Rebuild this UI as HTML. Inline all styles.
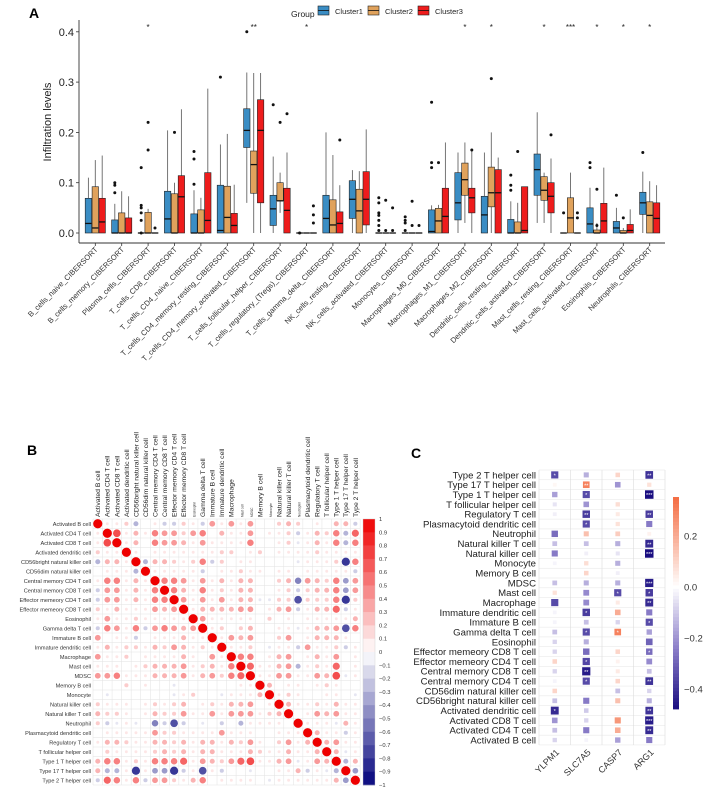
<!DOCTYPE html>
<html><head><meta charset="utf-8"><style>
html,body{margin:0;padding:0;background:#fff;}
svg{display:block;font-family:"Liberation Sans",Arial,sans-serif;}
</style></head><body>
<svg id="fig" width="712" height="796" viewBox="0 0 712 796" xmlns="http://www.w3.org/2000/svg">
<g id="pa"></g>
<g id="pb"></g>
<g id="pc"></g>
</svg>
<script>
// ===== Panel A data =====
const catsA = ["B_cells_naive_CIBERSORT","B_cells_memory_CIBERSORT","Plasma_cells_CIBERSORT","T_cells_CD8_CIBERSORT","T_cells_CD4_naive_CIBERSORT","T_cells_CD4_memory_resting_CIBERSORT","T_cells_CD4_memory_activated_CIBERSORT","T_cells_follicular_helper_CIBERSORT","T_cells_regulatory_(Tregs)_CIBERSORT","T_cells_gamma_delta_CIBERSORT","NK_cells_resting_CIBERSORT","NK_cells_activated_CIBERSORT","Monocytes_CIBERSORT","Macrophages_M0_CIBERSORT","Macrophages_M1_CIBERSORT","Macrophages_M2_CIBERSORT","Dendritic_cells_resting_CIBERSORT","Dendritic_cells_activated_CIBERSORT","Mast_cells_resting_CIBERSORT","Mast_cells_activated_CIBERSORT","Eosinophils_CIBERSORT","Neutrophils_CIBERSORT"];
const groupsA = ["Cluster1","Cluster2","Cluster3"];
// each box: [low, q1, median, q3, high]
const cluster1Boxes = [[0,0,.019,.069,.11],[0,0,0,.026,.058],[0,0,0,0,0],[0,0,.028,.083,.204],[0,0,0,.038,.085],[0,0,.005,.095,.176],[.06,.17,.204,.247,.319],[0,.015,.048,.075,.152],[0,0,0,0,0],[0,0,.029,.075,.2],[0,.029,.067,.104,.125],[0,0,0,0,0],[0,0,0,0,0],[0,0,.003,.046,.055],[0,.026,.06,.12,.16],[0,0,.036,.073,.16],[0,0,0,.027,.063],[.02,.075,.126,.157,.24],[0,0,0,0,0],[0,0,.018,.05,.09],[0,0,.01,.023,.05],[0,.037,.06,.081,.122]];
const cluster2Boxes = [[0,0,.01,.092,.145],[0,0,0,.04,.083],[0,0,0,.041,.048],[0,0,0,.078,.1],[0,0,0,.046,.07],[0,0,.031,.093,.197],[0,.079,.136,.163,.318],[.04,.064,.064,.1,.12],[0,0,0,0,0],[0,0,.016,.066,.155],[0,0,.044,.087,.123],[0,0,0,0,0],[0,0,0,0,0],[0,0,.024,.049,.056],[.02,.075,.106,.139,.18],[0,.052,.08,.131,.2],[0,0,0,.022,.06],[.02,.065,.085,.112,.12],[0,0,.03,.07,.12],[0,0,0,.006,.02],[0,0,0,.005,.01],[0,0,.035,.062,.103]];
const cluster3Boxes = [[0,0,.022,.069,.154],[0,0,0,.03,.073],[0,0,0,0,0],[0,0,.072,.114,.246],[0,0,.025,.12,.287],[0,0,.015,.039,.096],[0,.06,.204,.265,.318],[0,0,.045,.089,.16],[0,0,0,0,0],[0,0,.019,.042,.095],[0,.016,.067,.122,.206],[0,0,0,0,0],[0,0,0,0,0],[0,0,.033,.089,.18],[0,.04,.07,.089,.165],[0,0,.08,.126,.15],[0,0,.005,.092,.09],[0,.04,.073,.1,.148],[0,0,0,0,0],[0,0,.024,.059,.13],[0,0,.005,.017,.047],[0,0,.029,.06,.095]];
const cluster1Out = [[],[.08,.095,.1],[.13,.055,.05,.04,.025,0],[],[.097,.147,.162],[.31],[.4],[.255],[0],[],[],[.07,.06,.04,.035,.025,.015,.005],[.032,.025,.02,.005],[.26,.14,.13],[],[],[.115,.095,.085],[],[.04],[.14,.13],[.075],[.16]];
const cluster2Out = [[],[],[.22,.165],[.2],[],[],[],[.22],[],[],[],[.065,.005],[.063,.015],[.14],[],[.307],[.162],[],[],[.015,.087],[.03],[]];
const cluster3Out = [[],[],[.01],[],[],[],[],[.237],[.054,.036,.02],[.185],[],[.05,.005],[.015],[],[.165],[],[],[.195],[.04,.03],[],[],[]];
const sigA = ["","","*","","","","**","","*","","","","","","*","*","","*","***","*","*","*"];
const yTicksA = [0,0.1,0.2,0.3,0.4];

// ===== Panel B data =====
const cellsB = ["Activated B cell","Activated CD4 T cell","Activated CD8 T cell","Activated dendritic cell","CD56bright natural killer cell","CD56dim natural killer cell","Central memory CD4 T cell","Central memory CD8 T cell","Effector memeory CD4 T cell","Effector memeory CD8 T cell","Eosinophil","Gamma delta T cell","Immature  B cell","Immature dendritic cell","Macrophage","Mast cell","MDSC","Memory B cell","Monocyte","Natural killer cell","Natural killer T cell","Neutrophil","Plasmacytoid dendritic cell","Regulatory T cell","T follicular helper cell","Type 1 T helper cell","Type 17 T helper cell","Type 2 T helper cell"];
const corrB = [
[1,.1,.1,.2,-.3,0,.1,-.2,-.2,.2,.1,-.2,.4,.1,.4,.1,.4,0,0,.2,.3,.2,0,.1,0,.3,.3,-.2],
[.1,1,.7,.1,.3,.1,.5,.4,.4,.2,.4,.5,0,.3,.1,.1,.4,0,.1,.1,.2,-.2,.1,.3,.2,.5,-.3,.6],
[.1,.7,1,.1,.3,0,.5,.4,.4,.3,.1,.4,.1,.1,.1,.1,.5,0,0,.1,.2,-.1,.1,.3,.1,.5,-.3,.5],
[.2,.1,.1,1,.1,0,.1,.1,.1,.1,.1,.1,.1,.2,.2,0,.1,.2,0,.1,.1,.1,.1,.2,.1,.1,.1,.1],
[-.3,.3,.3,.1,1,-.3,.3,.3,.2,.1,.2,.5,-.2,.2,0,.1,.1,0,0,0,0,-.1,.1,.1,.1,.2,-.8,.5],
[0,.1,.1,.1,-.3,1,.1,.1,.1,.1,.1,-.2,0,.1,.1,.2,.1,.1,0,.1,.1,0,.1,.1,.1,.1,.1,-.2],
[.1,.5,.5,.1,.3,.1,1,.5,.5,.4,.1,.4,.1,.3,.1,.3,.3,0,0,.2,.3,-.5,.4,.3,.2,.5,-.4,.4],
[-.2,.4,.4,.1,.3,.1,.5,1,.5,.3,.1,.5,.1,.2,.1,.3,.3,0,0,.1,.2,-.2,.2,.3,.3,.5,-.4,.4],
[-.2,.4,.4,.1,.3,.1,.5,.5,1,.4,.1,.4,.1,.4,.1,.3,.3,-.1,-.1,.2,.2,-.7,.2,.2,.2,.5,-.8,.2],
[.2,.1,.3,.1,.1,.1,.4,.3,.4,1,.1,.3,.3,.3,.3,.4,.4,0,.1,.3,.4,-.2,.1,.3,.3,.6,-.2,.1],
[.1,.4,.1,.1,.2,.1,.1,.1,.1,.1,1,.4,.1,.1,.1,.1,.1,0,.2,0,.1,0,.1,.1,.1,.1,.1,.3],
[-.2,.5,.4,.1,.5,-.2,.4,.5,.4,.3,.4,1,.1,.2,0,.2,.3,0,0,.1,.1,-.1,.1,.3,.3,.4,-.7,.5],
[.4,0,.1,.1,-.2,0,.1,.1,.1,.3,.1,.1,1,.1,.4,.3,.4,0,0,.2,.4,0,.1,.3,.3,.3,.1,0],
[.1,.3,.1,.2,.2,.1,.3,.2,.4,.3,.1,.2,.1,1,.1,.1,.2,0,-.1,.1,.1,-.2,.4,.1,.1,.2,-.2,.1],
[.4,.1,.1,.2,0,.1,.1,.1,.1,.3,.1,0,.4,.1,1,.5,.5,0,.1,.3,.4,0,.1,.3,.1,.4,0,.1],
[.1,.1,.1,0,.1,.2,.3,.3,.3,.4,.1,.2,.3,.1,.5,1,.6,.1,.1,.3,.4,-.3,.1,.2,.1,.6,0,.1],
[.4,.4,.5,.1,.1,.1,.3,.3,.3,.4,.1,.3,.4,.2,.5,.6,1,.1,.1,.4,.4,.1,.1,.4,.3,.7,-.1,.1],
[0,0,0,.2,0,.1,0,0,-.1,0,0,0,0,0,0,.1,.1,1,.3,0,.1,.1,0,.1,.2,.1,0,0],
[0,-.1,0,0,0,0,0,0,-.1,.1,.2,0,0,-.1,.1,.1,.1,.3,1,.1,.2,.1,0,0,.1,.1,0,-.1],
[.2,.1,.1,.1,0,.1,.2,.1,.2,.3,0,.1,.2,.1,.3,.3,.4,0,.1,1,.3,.1,.1,.2,.1,.3,.1,.1],
[.3,.2,.2,.1,0,.1,.3,.2,.2,.4,.1,.1,.4,.1,.4,.4,.4,.1,.2,.3,1,0,.1,.4,.3,.4,.1,.1],
[.2,-.2,-.1,.1,-.1,0,-.5,-.2,-.7,-.2,0,-.1,0,-.2,0,-.3,.1,.1,.1,.1,0,1,.1,.1,.1,-.1,.3,.1],
[0,.1,.1,.1,.1,.1,.4,.2,.2,.1,.1,.1,.1,.4,.1,.1,.1,0,0,.1,.1,.1,1,.3,.1,.1,-.2,.1],
[.1,.3,.3,.2,.1,.1,.3,.3,.2,.3,.1,.3,.3,.1,.3,.2,.4,.1,0,.2,.4,.1,.3,1,.3,.4,.1,.1],
[0,.2,.1,.1,.1,.1,.2,.3,.2,.3,.1,.3,.3,.1,.1,.1,.3,.2,.1,.1,.3,.1,.1,.3,1,.3,-.1,.1],
[.3,.5,.5,.1,.2,.1,.5,.5,.5,.6,.1,.4,.3,.2,.4,.6,.7,.1,.1,.3,.4,-.1,.1,.4,.3,1,-.3,.3],
[.3,-.3,-.3,.1,-.8,.1,-.4,-.4,-.8,-.2,.1,-.7,.1,-.2,0,0,-.1,0,0,.1,.1,.3,-.2,.1,-.1,-.3,1,-.4],
[-.2,.6,.5,.1,.5,-.2,.4,.4,.2,.1,.3,.5,0,.1,.1,.1,.1,0,-.1,.1,.1,.1,.1,.1,.1,.3,-.4,1]];
const colLabelsB = ["Activated B cell","Activated CD4 T cell","Activated CD8 T cell","Activated dendritic cell","CD56bright natural killer cell","CD56dim natural killer cell","Central memory CD4 T cell","Central memory CD8 T cell","Effector memory CD4 T cell","Effector memory CD8 T cell","Eosinophil","Gamma delta T cell","Immature  B cell","Immature dendritic cell","Macrophage","Mast cell","MDSC","Memory B cell","Monocyte","Natural killer cell","Natural killer T cell","Neutrophil","Plasmacytoid dendritic cell","Regulatory T cell","T follicular helper cell","Type 1 T helper cell","Type 17 T helper cell","Type 2 T helper cell"];
const rowLabelsB = ["Activated B cell","Activated CD4 T cell","Activated CD8 T cell","Activated dendritic cell","CD56bright natural killer cell","CD56dim natural killer cell","Central memory CD4 T cell","Central memory CD8 T cell","Effector memeory CD4 T cell","Effector memeory CD8 T cell","Eosinophil","Gamma delta T cell","Immature  B cell","Immature dendritic cell","Macrophage","Mast cell","MDSC","Memory B cell","Monocyte","Natural killer cell","Natural killer T cell","Neutrophil","Plasmacytoid dendritic cell","Regulatory T cell","T follicular helper cell","Type 1 T helper cell","Type 17 T helper cell","Type 2 T helper cell"];
const smallColsB = ["Eosinophil","Mast cell","MDSC","Monocyte","Neutrophil"];
const cbTicksB = [1,0.9,0.8,0.7,0.6,0.5,0.4,0.3,0.2,0.1,0,-0.1,-0.2,-0.3,-0.4,-0.5,-0.6,-0.7,-0.8,-0.9,-1];

// ===== Panel C data =====
const rowsC = ["Type 2 T helper cell","Type 17 T helper cell","Type 1 T helper cell","T follicular helper cell","Regulatory T cell","Plasmacytoid dendritic cell","Neutrophil","Natural killer T cell","Natural killer cell","Monocyte","Memory B cell","MDSC","Mast cell","Macrophage","Immature dendritic cell","Immature  B cell","Gamma delta T cell","Eosinophil","Effector memeory CD8 T cell","Effector memeory CD4 T cell","Central memory CD8 T cell","Central memory CD4 T cell","CD56dim natural killer cell","CD56bright natural killer cell","Activated dendritic cell","Activated CD8 T cell","Activated CD4 T cell","Activated B cell"];
const genesC = ["YLPM1","SLC7A5","CASP7","ARG1"];
const corrC = [[-.35,-.15,.1,-.4],[.02,.3,-.2,.07],[-.18,-.35,0,-.48],[-.05,-.2,.08,0],[-.03,-.38,.05,-.38],[0,-.35,.07,-.25],[-.28,.15,.12,.03],[-.12,-.12,-.15,-.42],[-.25,-.03,-.05,-.48],[-.02,.08,-.15,0],[0,.1,-.03,0],[-.12,-.15,-.15,-.45],[.07,-.22,-.35,-.38],[-.35,-.22,.05,-.42],[-.02,-.38,.2,-.25],[-.02,-.12,-.08,-.35],[-.12,-.35,.3,-.18],[-.08,-.15,0,-.3],[-.08,-.28,.1,-.28],[.1,-.36,.03,-.22],[-.08,-.45,.05,-.12],[-.02,-.35,.1,-.4],[.1,0,-.12,-.08],[-.12,-.25,.15,-.15],[-.42,-.1,0,-.4],[-.2,-.08,.25,-.45],[-.12,-.25,.2,-.42],[-.08,-.02,-.18,-.25]];
const starsC = [["*","","","**"],["","**","",""],["","*","","***"],["","","",""],["","**","","**"],["","*","",""],["","","",""],["","","","**"],["","","","***"],["","","",""],["","","",""],["","","","***"],["","","*","*"],["","","","**"],["","*","",""],["","","","*"],["","*","*",""],["","","",""],["","","","*"],["","*","",""],["","**","",""],["","*","","**"],["","","",""],["","","",""],["*","","","**"],["","","","***"],["","","","**"],["","","",""]];
const cbTicksC = [0.2,0.0,-0.2,-0.4];

const NS="http://www.w3.org/2000/svg";
function mk(parent,tag,attrs,text){const e=document.createElementNS(NS,tag);for(const k in attrs)e.setAttribute(k,attrs[k]);if(text!==undefined)e.textContent=text;parent.appendChild(e);return e;}

// ================= PANEL A =================
(function(){
const g=document.getElementById('pa');
const x0=79,x1=665,yTop=20,yAxis=243;
const yS=v=>233-v*503;
const xC=i=>95.3+i*26.4;
const colors=["#3a8dc4","#e0a25c","#ee1c1c"];
const boxes=[cluster1Boxes,cluster2Boxes,cluster3Boxes];
const outs=[cluster1Out,cluster2Out,cluster3Out];
let t=mk(g,'text',{x:29,y:18,'font-size':14,'font-weight':'bold'},'A');


// legend
t=mk(g,'text',{x:291,y:17,'font-size':8.5,fill:'#222'},'Group');


const lx=[318,368,418];
groupsA.forEach((gn,k)=>{
 const lg=mk(g,'g',{});
 
 
 mk(lg,'rect',{x:lx[k],y:6,width:11,height:9,fill:colors[k],stroke:'#222','stroke-width':0.6});
 mk(lg,'line',{x1:lx[k],x2:lx[k]+11,y1:10.5,y2:10.5,stroke:'#111','stroke-width':0.8});
 mk(lg,'text',{x:lx[k]+17,y:14,'font-size':7.5,fill:'#222'},gn);
});
// axes
let a=mk(g,'line',{x1:x0,x2:x0,y1:yTop,y2:yAxis,stroke:'#333','stroke-width':0.9});


a=mk(g,'line',{x1:x0,x2:x1,y1:yAxis,y2:yAxis,stroke:'#333','stroke-width':0.9});


yTicksA.forEach(v=>{
 mk(g,'line',{x1:x0-3,x2:x0,y1:yS(v),y2:yS(v),stroke:'#333','stroke-width':0.8});
 const tl=mk(g,'text',{x:x0-5,y:yS(v)+4,'font-size':11,'text-anchor':'end',fill:'#222'},v.toFixed(1));
 
 
});
t=mk(g,'text',{x:0,y:0,'font-size':11,'text-anchor':'middle',fill:'#222',transform:'translate(51,122) rotate(-90)'},'Infiltration levels');


catsA.forEach((c,i)=>{
 const cx=xC(i);
 mk(g,'line',{x1:cx,x2:cx,y1:yAxis,y2:yAxis+3,stroke:'#333','stroke-width':0.8});
 const tl=mk(g,'text',{x:0,y:0,'font-size':7.6,'text-anchor':'end',fill:'#333',transform:`translate(${cx+3},${yAxis+7}) rotate(-45)`},c);
 
 
 if(sigA[i]){const s=mk(g,'text',{x:cx,y:30,'font-size':8,'text-anchor':'middle',fill:'#222'},sigA[i]);
  
  }
 for(let k=0;k<3;k++){
  const b=boxes[k][i];const bx=cx+(k-1)*6.9;const w=6.4;
  const bg=mk(g,'g',{});
  
  
  mk(bg,'line',{x1:bx,x2:bx,y1:yS(b[4]),y2:yS(b[0]),stroke:'#666','stroke-width':0.9});
  mk(bg,'rect',{x:bx-w/2,y:yS(b[3]),width:w,height:Math.max(0.01,yS(b[1])-yS(b[3])),fill:colors[k],stroke:'#222','stroke-width':0.6});
  mk(bg,'line',{x1:bx-w/2,x2:bx+w/2,y1:yS(b[2]),y2:yS(b[2]),stroke:'#111','stroke-width':1.3});
  outs[k][i].forEach(v=>{const o=mk(bg,'circle',{cx:bx,cy:yS(v),r:1.5,fill:'#111'});
   
   });
 }
});
})();

// ================= PANEL B =================
(function(){
const g=document.getElementById('pb');
const L=93,T=519,cw=9.54,ch=9.5,n=cellsB.length;
function col(v){const a=Math.min(1,Math.abs(v));
 if(v>=0){return `rgb(${Math.round(255-a*17)},${Math.round(255-a*255)},${Math.round(255-a*255)})`;}
 return `rgb(${Math.round(255-a*250)},${Math.round(255-a*250)},${Math.round(255-a*130)})`;}
let t=mk(g,'text',{x:27,y:455,'font-size':14,'font-weight':'bold'},'B');


for(let i=0;i<=n;i++){
 mk(g,'line',{x1:L,x2:L+n*cw,y1:T+i*ch,y2:T+i*ch,stroke:'#e2e2e2','stroke-width':0.5});
 mk(g,'line',{x1:L+i*cw,x2:L+i*cw,y1:T,y2:T+n*ch,stroke:'#e2e2e2','stroke-width':0.5});
}
rowLabelsB.forEach((r,i)=>{
 const tl=mk(g,'text',{x:L-2,y:T+i*ch+ch/2+2,'font-size':5.6,'text-anchor':'end',fill:'#333'},r);
 
 
});
colLabelsB.forEach((c,j)=>{
 const small=smallColsB.indexOf(c)>=0;
 const tl=mk(g,'text',{x:0,y:0,'font-size':small?3.2:6.8,fill:'#222',transform:`translate(${L+j*cw+cw/2+2.4},${T-2}) rotate(-90)`},c);
 
 
});
corrB.forEach((row,i)=>row.forEach((v,j)=>{
 const r=Math.sqrt(Math.abs(v))*4.6;
 if(r<0.3)return;
 const c=mk(g,'circle',{cx:L+j*cw+cw/2,cy:T+i*ch+ch/2,r:r,fill:col(v)});
 
 
}));
// colorbar
const cbx=363,cbw=12,cbh=n*ch,seg=cbh/20;
for(let s=0;s<20;s++){const v=1-(s+0.5)*0.1;
 mk(g,'rect',{x:cbx,y:T+s*seg,width:cbw,height:seg+0.3,fill:col(v)});}
const cbf=mk(g,'rect',{x:cbx,y:T,width:cbw,height:cbh,fill:'none',stroke:'#ccc','stroke-width':0.4});


cbTicksB.forEach((v,k)=>{
 const tl=mk(g,'text',{x:cbx+cbw+4,y:T+k*seg+2,'font-size':5.8,fill:'#333'},String(v).replace('-','\u2212'));
 
 
});
})();

// ================= PANEL C =================
(function(){
const g=document.getElementById('pc');
const L=539,T=470,cw=31.5,ch=9.82,n=rowsC.length;
function col(v){
 if(v>=0){const a=Math.min(1,v/0.35);return `rgb(${Math.round(255-a*11)},${Math.round(255-a*146)},${Math.round(255-a*188)})`;}
 const a=Math.min(1,-v/0.48);
 if(a<0.5){const b=a/0.5;return `rgb(${Math.round(255-b*115)},${Math.round(255-b*128)},${Math.round(255-b*54)})`;}
 const b=(a-0.5)/0.5;return `rgb(${Math.round(140-b*115)},${Math.round(127-b*114)},${Math.round(201-b*73)})`;}
let t=mk(g,'text',{x:411,y:458,'font-size':14,'font-weight':'bold'},'C');


for(let i=0;i<=n;i++) mk(g,'line',{x1:L,x2:L+4*cw,y1:T+i*ch,y2:T+i*ch,stroke:'#e4e4e4','stroke-width':0.5});
for(let j=0;j<=4;j++) mk(g,'line',{x1:L+j*cw,x2:L+j*cw,y1:T,y2:T+n*ch,stroke:'#dcdcdc','stroke-width':0.6});
rowsC.forEach((r,i)=>{
 const tl=mk(g,'text',{x:L-3,y:T+i*ch+ch/2+3.4,'font-size':9.6,'text-anchor':'end',fill:'#222'},r);
 
 
});
genesC.forEach((gn,j)=>{
 const tl=mk(g,'text',{x:0,y:0,'font-size':9,'text-anchor':'end',fill:'#333',transform:`translate(${L+j*cw+cw/2+5},${T+n*ch+8}) rotate(-45)`},gn);
 
 
});
corrC.forEach((row,i)=>row.forEach((v,j)=>{
 const s=3.5+Math.min(1,Math.abs(v)/0.48)*5;
 const cx=L+j*cw+cw/2,cy=T+i*ch+ch/2;
 const r=mk(g,'rect',{x:cx-s/2,y:cy-s/2,width:s,height:s,fill:col(v)});
 
 
 if(starsC[i][j]){const st=mk(g,'text',{x:cx,y:cy+2.6,'font-size':5.5,'text-anchor':'middle',fill:'#fff'},starsC[i][j]);
  
  }
}));
// colorbar
const cbx=673,cbw=6,top=497,bot=709,zero=587,per=255; // px per unit
const steps=60;
for(let s=0;s<steps;s++){const y=top+(bot-top)*s/steps;const v=(zero-(y+(bot-top)/steps/2))/per;
 mk(g,'rect',{x:cbx,y:y,width:cbw,height:(bot-top)/steps+0.4,fill:col(v)});}
const cb=mk(g,'rect',{x:cbx,y:top,width:cbw,height:bot-top,fill:'none',stroke:'none'});


cbTicksC.forEach(v=>{
 const y=zero-v*per;
 const tl=mk(g,'text',{x:cbx+cbw+5,y:y+3.5,'font-size':9.5,fill:'#333'},v.toFixed(1).replace('-','\u2212'));
 
 
});
})();
</script>
</body></html>
